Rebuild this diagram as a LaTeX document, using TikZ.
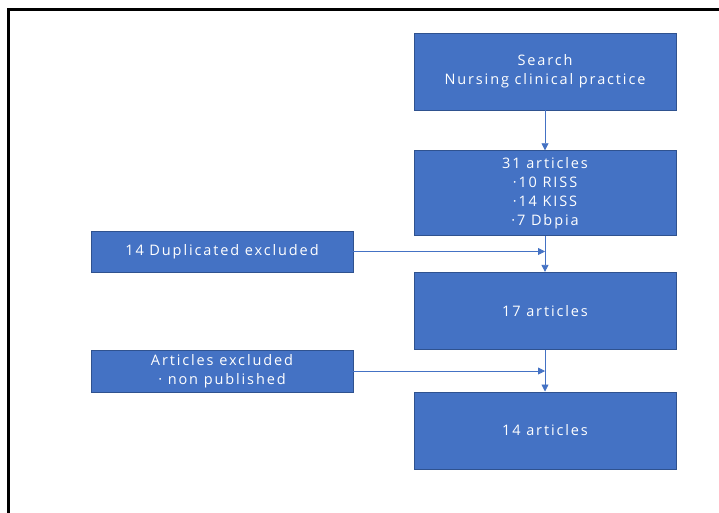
\documentclass[tikz,border=0pt]{standalone}
\usepackage{fontspec}
\setmainfont[LetterSpace=13]{Open Sans}
\usetikzlibrary{arrows.meta, positioning}
\definecolor{boxblue}{RGB}{68,114,196}
\definecolor{edgeblue}{RGB}{47,82,143}

\begin{document}
\begin{tikzpicture}[x=1pt, y=1pt,
    flowbox/.style={rectangle, draw=edgeblue, line width=0.6pt, fill=boxblue, text=white, minimum width=262pt, align=center, inner sep=0pt, font=\fontsize{14.5}{19}\selectfont},
    flow/.style={-{Triangle[length=7pt, width=7pt]}, draw=boxblue, line width=0.8pt}
]
\useasboundingbox (0,0) rectangle (719,-513);
% frame
\draw[line width=3.5pt] (8.5,-513) -- (8.5,-9.5) -- (719,-9.5);
% main column
\node[flowbox, minimum height=77pt] (search) at (545,-71.5) {Search\\Nursing clinical practice};
\node[flowbox, minimum height=85pt, below=40pt of search] (found) {31 articles\\·10 RISS\\·14 KISS\\·7 Dbpia};
\node[flowbox, minimum height=77pt, below=36pt of found] (remain) {17 articles};
\node[flowbox, minimum height=77pt, below=42pt of remain] (final) {14 articles};
% exclusions
\node[flowbox, minimum height=41pt] (dup) at (222,-251.5) {14 Duplicated excluded};
\node[flowbox, minimum height=42pt] (unpub) at (222,-371) {Articles excluded\\· non published};
\coordinate (m1) at (dup.east -| found.south);
\coordinate (m2) at (unpub.east -| remain.south);
\draw[flow] (search) -- (found);
\draw[flow] (found) -- (remain);
\draw[flow] (remain) -- (final);
\draw[flow] (dup.east) -- (m1);
\draw[flow] (unpub.east) -- (m2);
\end{tikzpicture}
\end{document}
